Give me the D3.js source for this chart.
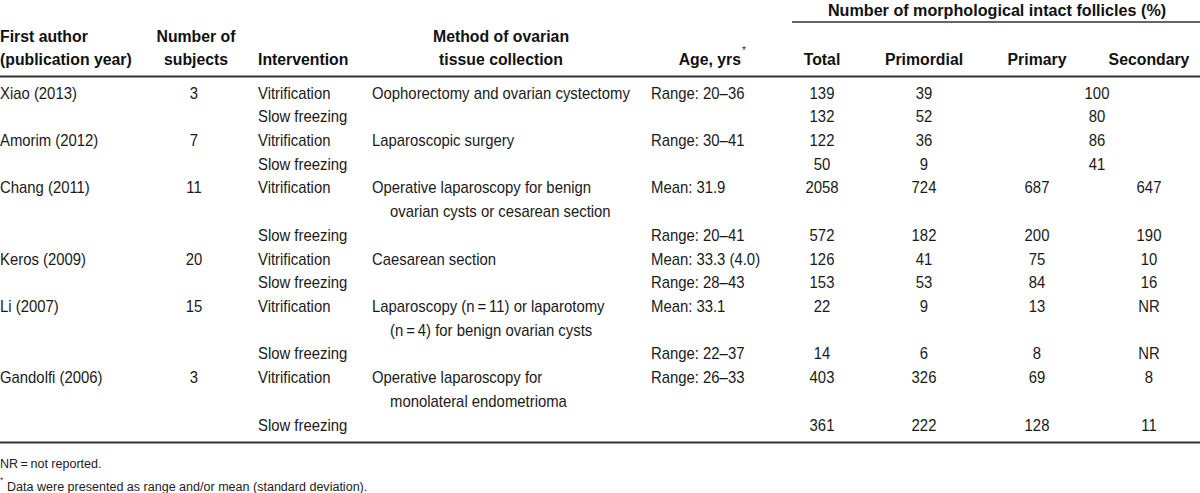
<!DOCTYPE html>
<html>
<head>
<meta charset="utf-8">
<script src="https://cdn.jsdelivr.net/npm/d3@7"></script>
<style>
  html, body { margin: 0; padding: 0; background: #fff; }
  svg { display: block; }
  text { font-family: "Liberation Sans", Arial, sans-serif; }
</style>
</head>
<body>
<svg id="chart" width="1200" height="493"></svg>
<script>
// ---------- data ----------
const authors = ["Xiao (2013)", "Amorim (2012)", "Chang (2011)", "Keros (2009)", "Li (2007)", "Gandolfi (2006)"];
const subjects = ["3", "7", "11", "20", "15", "3"];
const interventions = ["Vitrification", "Slow freezing"];
const methods = [
  ["Oophorectomy and ovarian cystectomy"],
  ["Laparoscopic surgery"],
  ["Operative laparoscopy for benign", "ovarian cysts or cesarean section"],
  ["Caesarean section"],
  ["Laparoscopy (n\u2009=\u200911) or laparotomy", "(n\u2009=\u20094) for benign ovarian cysts"],
  ["Operative laparoscopy for", "monolateral endometrioma"]
];
const ages = [
  ["Range: 20\u201336", ""],
  ["Range: 30\u201341", ""],
  ["Mean: 31.9", "Range: 20\u201341"],
  ["Mean: 33.3 (4.0)", "Range: 28\u201343"],
  ["Mean: 33.1", "Range: 22\u201337"],
  ["Range: 26\u201333", ""]
];
const totals     = [["139", "132"], ["122", "50"], ["2058", "572"], ["126", "153"], ["22", "14"], ["403", "361"]];
const primordial = [["39", "52"], ["36", "9"], ["724", "182"], ["41", "53"], ["9", "6"], ["326", "222"]];
const primary    = [null, null, ["687", "200"], ["75", "84"], ["13", "8"], ["69", "128"]];
const secondary  = [null, null, ["647", "190"], ["10", "16"], ["NR", "NR"], ["8", "11"]];
const primarySecondaryCombined = [["100", "80"], ["86", "41"], null, null, null, null];

const spannerLabel = "Number of morphological intact follicles (%)";
const headers = [
  { key: "author", lines: ["First author", "(publication year)"] },
  { key: "subjects", lines: ["Number of", "subjects"] },
  { key: "intervention", lines: ["", "Intervention"] },
  { key: "method", lines: ["Method of ovarian", "tissue collection"] },
  { key: "age", lines: ["", "Age, yrs"] },
  { key: "total", lines: ["", "Total"] },
  { key: "primordial", lines: ["", "Primordial"] },
  { key: "primary", lines: ["", "Primary"] },
  { key: "secondary", lines: ["", "Secondary"] }
];
const footnotes = ["NR\u2009=\u2009not reported.", "Data were presented as range and/or mean (standard deviation)."];

// ---------- layout ----------
const SX = 0.93;
const svg = d3.select("#chart");

// header column positions
const headX = d3.scaleOrdinal()
  .domain(["author", "subjects", "intervention", "method", "age", "total", "primordial", "primary", "secondary"])
  .range([0, 196, 258, 501, 741, 822, 924, 1037, 1149]);
const headAnchor = { author: "start", subjects: "middle", intervention: "start", method: "middle",
  age: "end", total: "middle", primordial: "middle", primary: "middle", secondary: "middle" };

// body column positions
const bodyX = d3.scaleOrdinal()
  .domain(["author", "subjects", "intervention", "method", "methodCont", "age", "total", "primordial", "primary", "secondary", "combined"])
  .range([0, 194, 258, 372, 390, 651, 822, 924, 1037, 1149, 1097]);

// assign line slots
const slots = [];
let line = 0;
authors.forEach((a, i) => {
  const vLine = line;
  const sLine = line + Math.max(methods[i].length, 1);
  slots.push([vLine, sLine]);
  line = sLine + 1;
});
const nLines = line;
const y = d3.scaleLinear().domain([0, nLines - 1]).range([98.5, 430.5]);

function txt(g, x, yy, s, anchor, size, weight, fill, sx) {
  return g.append("text")
    .attr("transform", `translate(${x},${yy}) scale(${sx || SX},1)`)
    .attr("text-anchor", anchor || "start")
    .attr("font-size", size || 16)
    .attr("font-weight", weight || "normal")
    .attr("fill", fill || "#1a1a1a")
    .text(s);
}

// ---------- header ----------
const hg = svg.append("g");
txt(hg, 997, 15.5, spannerLabel, "middle", 17, "bold", "#111", 0.95);
hg.append("line").attr("x1", 792).attr("x2", 1200).attr("y1", 22).attr("y2", 22)
  .attr("stroke", "#333").attr("stroke-width", 1.5);

headers.forEach(h => {
  h.lines.forEach((l, li) => {
    if (!l) return;
    txt(hg, headX(h.key), li === 0 ? 42 : 65, l, headAnchor[h.key], 17, "bold", "#111", 0.93);
  });
});
// superscript asterisk on Age
txt(hg, 742, 54, "*", "start", 11, "normal", "#333");

hg.append("line").attr("x1", 0).attr("x2", 1200).attr("y1", 76.5).attr("y2", 76.5)
  .attr("stroke", "#333").attr("stroke-width", 2);

// ---------- body ----------
const bg = svg.append("g");
authors.forEach((a, i) => {
  const [vL, sL] = slots[i];
  txt(bg, bodyX("author"), y(vL), a, "start");
  txt(bg, bodyX("subjects"), y(vL), subjects[i], "middle");
  txt(bg, bodyX("intervention"), y(vL), interventions[0], "start");
  txt(bg, bodyX("intervention"), y(sL), interventions[1], "start");
  methods[i].forEach((m, mi) => {
    txt(bg, mi === 0 ? bodyX("method") : bodyX("methodCont"), y(vL + mi), m, "start");
  });
  [vL, sL].forEach((L, k) => {
    if (ages[i][k]) txt(bg, bodyX("age"), y(L), ages[i][k], "start");
    txt(bg, bodyX("total"), y(L), totals[i][k], "middle");
    txt(bg, bodyX("primordial"), y(L), primordial[i][k], "middle");
    if (primarySecondaryCombined[i]) {
      txt(bg, bodyX("combined"), y(L), primarySecondaryCombined[i][k], "middle");
    } else {
      txt(bg, bodyX("primary"), y(L), primary[i][k], "middle");
      txt(bg, bodyX("secondary"), y(L), secondary[i][k], "middle");
    }
  });
});

bg.append("line").attr("x1", 0).attr("x2", 1200).attr("y1", 442.5).attr("y2", 442.5)
  .attr("stroke", "#333").attr("stroke-width", 2);

// ---------- footnotes ----------
const fg = svg.append("g");
txt(fg, 0, 467.5, footnotes[0], "start", 13.5, "normal", "#222");
txt(fg, 0, 483, "*", "start", 9, "normal", "#333");
txt(fg, 7, 491, footnotes[1], "start", 13.5, "normal", "#222");
</script>
</body>
</html>
